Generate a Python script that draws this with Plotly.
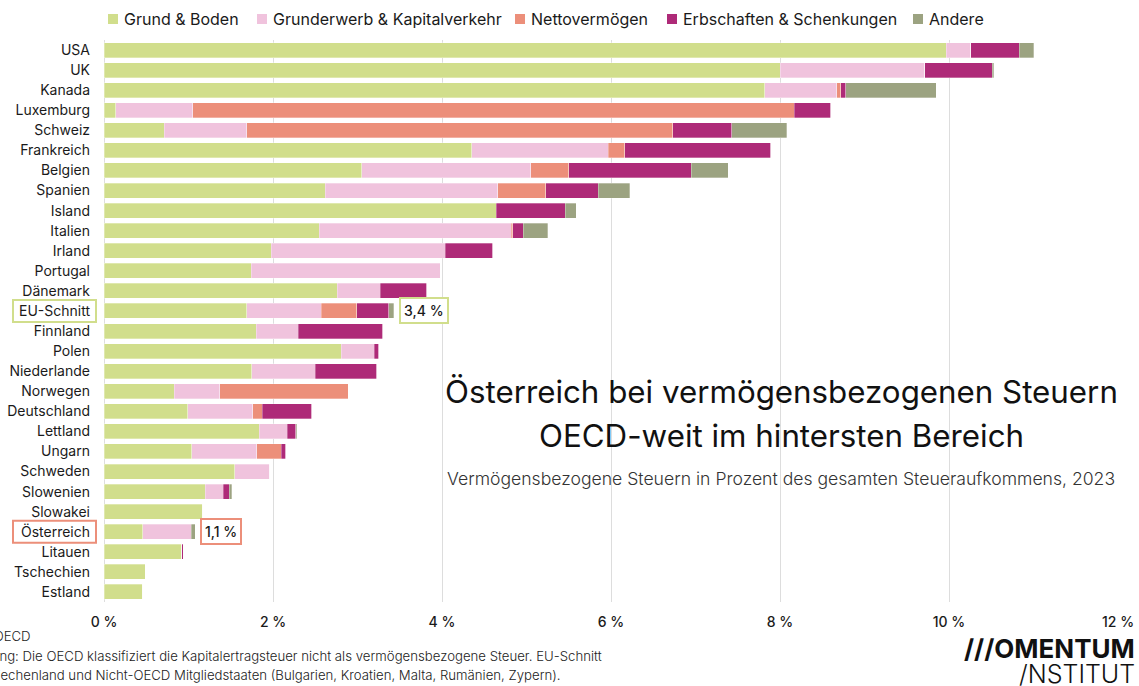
import plotly.graph_objects as go

# Länder (von oben nach unten)
laender = ["USA", "UK", "Kanada", "Luxemburg", "Schweiz", "Frankreich", "Belgien",
           "Spanien", "Island", "Italien", "Irland", "Portugal", "Dänemark", "EU-Schnitt",
           "Finnland", "Polen", "Niederlande", "Norwegen", "Deutschland", "Lettland",
           "Ungarn", "Schweden", "Slowenien", "Slowakei", "Österreich", "Litauen",
           "Tschechien", "Estland"]

# Anteile am gesamten Steueraufkommen in %, 2023
grund_boden = [9.97, 8.00, 7.82, 0.14, 0.71, 4.35, 3.05, 2.62, 4.64, 2.55, 1.98, 1.74, 2.76, 1.69,
               1.80, 2.81, 1.75, 0.83, 0.99, 1.84, 1.04, 1.55, 1.20, 1.17, 0.46, 0.92, 0.49, 0.46]
grunderwerb = [0.29, 1.71, 0.85, 0.91, 0.98, 1.62, 2.00, 2.04, 0.00, 2.27, 2.06, 2.24, 0.51, 0.88,
               0.50, 0.39, 0.75, 0.54, 0.77, 0.33, 0.77, 0.41, 0.21, 0.00, 0.57, 0.00, 0.00, 0.00]
nettovermoegen = [0.00, 0.00, 0.05, 7.12, 5.04, 0.19, 0.45, 0.57, 0.00, 0.02, 0.00, 0.00, 0.00, 0.42,
                  0.00, 0.00, 0.00, 1.52, 0.11, 0.00, 0.29, 0.00, 0.00, 0.00, 0.00, 0.00, 0.00, 0.00]
erbschaften = [0.57, 0.80, 0.06, 0.43, 0.70, 1.73, 1.45, 0.62, 0.82, 0.12, 0.56, 0.00, 0.55, 0.38,
               1.00, 0.05, 0.73, 0.00, 0.59, 0.10, 0.05, 0.00, 0.07, 0.00, 0.00, 0.02, 0.00, 0.00]
andere = [0.17, 0.02, 1.07, 0.00, 0.65, 0.00, 0.44, 0.37, 0.13, 0.29, 0.00, 0.00, 0.00, 0.06,
          0.00, 0.00, 0.00, 0.00, 0.00, 0.01, 0.00, 0.00, 0.03, 0.00, 0.05, 0.00, 0.00, 0.00]

x_ticks = [0, 2, 4, 6, 8, 10, 12]
x_ticktext = ["0 %", "2 %", "4 %", "6 %", "8 %", "10 %", "12 %"]

serien = [
    ("Grund & Boden", grund_boden, "#d1de8c"),
    ("Grunderwerb & Kapitalverkehr", grunderwerb, "#f0c3dd"),
    ("Nettovermögen", nettovermoegen, "#ec8f7a"),
    ("Erbschaften & Schenkungen", erbschaften, "#ae2a78"),
    ("Andere", andere, "#9ca381"),
]

FONT = "Inter"
GREEN = "#d1de8c"
ORANGE = "#ec8f7a"

# Plotfläche in Pixeln
L, R, T, B = 104, 1118, 40, 602
W, H = R - L, B - T


def px(x):
    return (x - L) / W


def py(y):
    return (B - y) / H


fig = go.Figure()
for name, werte, farbe in serien:
    fig.add_trace(go.Bar(
        y=laender, x=werte, name=name, orientation="h",
        marker=dict(color=farbe, line=dict(color="rgba(255,255,255,0.6)", width=0.5)),
        hoverinfo="x+y+name", showlegend=False,
    ))

summen = [round(sum(s[1][i] for s in serien), 2) for i in range(len(laender))]

fig.update_layout(
    barmode="stack",
    bargap=0.25,
    width=1139, height=686,
    margin=dict(l=L, r=1139 - R, t=T, b=686 - B, autoexpand=False),
    paper_bgcolor="white", plot_bgcolor="white",
    font=dict(family=FONT, color="#1a1a1a", size=14),
    showlegend=False,
    xaxis=dict(range=[0, 12], tickvals=x_ticks, ticktext=x_ticktext,
               showgrid=True, gridcolor="#dddddd", gridwidth=1, zeroline=True,
               zerolinecolor="#dddddd", zerolinewidth=1, automargin=False,
               tickfont=dict(size=14, family=FONT, color="#1a1a1a", weight=500),
               ticks="", ticklabelstandoff=10, fixedrange=True),
    yaxis=dict(autorange="reversed", ticks="", ticklabelstandoff=13, automargin=False,
               tickfont=dict(size=14, family=FONT, color="#1a1a1a"), fixedrange=True),
)

# Legende oben
legende_x = [108, 257, 515, 667, 913]
for (name, _, farbe), lx in zip(serien, legende_x):
    fig.add_shape(type="rect", xref="paper", yref="paper",
                  x0=px(lx), x1=px(lx + 10), y0=py(24), y1=py(14),
                  line=dict(width=0), fillcolor=farbe)
    fig.add_annotation(xref="paper", yref="paper", x=px(lx + 14), y=py(19),
                       xanchor="left", yanchor="middle", text=name, showarrow=False,
                       font=dict(size=16, family=FONT, color="#1a1a1a"))

# Rahmen um EU-Schnitt und Österreich
for land, farbe in [("EU-Schnitt", GREEN), ("Österreich", ORANGE)]:
    i = laender.index(land)
    fig.add_shape(type="rect", xref="paper", yref="y",
                  x0=px(13), x1=px(96), y0=i - 0.55, y1=i + 0.55,
                  line=dict(color=farbe, width=2), fillcolor="rgba(0,0,0,0)")
    txt = f"{summen[i]:.1f} %".replace(".", ",")
    fig.add_annotation(x=summen[i], y=land, xref="x", yref="y", text=txt,
                       showarrow=False, xanchor="left", xshift=5,
                       font=dict(size=14, family=FONT, color="#1a1a1a", weight=500),
                       bordercolor=farbe, borderwidth=2, borderpad=3, bgcolor="white")

# Titel
for zeile, y in [("Österreich bei vermögensbezogenen Steuern", 392),
                 ("OECD-weit im hintersten Bereich", 436)]:
    fig.add_annotation(xref="paper", yref="paper", x=px(781), y=py(y), xanchor="center",
                       yanchor="middle", text=zeile, showarrow=False,
                       font=dict(size=31.3, family=FONT, color="#111111"))
fig.add_annotation(xref="paper", yref="paper", x=px(1117), y=py(478), xanchor="right",
                   yanchor="middle",
                   text="Vermögensbezogene Steuern in Prozent des gesamten Steueraufkommens, 2023",
                   showarrow=False, font=dict(size=17.6, family=FONT, color="#333333", weight=300))

# Fußnoten (links angeschnitten wie im Original)
fussnoten = [
    ("Quelle: OECD", 33, 636),
    ("Anmerkung: Die OECD klassifiziert die Kapitalertragsteuer nicht als vermögensbezogene Steuer. EU-Schnitt", 604, 656),
    ("ohne Griechenland und Nicht-OECD Mitgliedstaaten (Bulgarien, Kroatien, Malta, Rumänien, Zypern).", 563, 675),
]
for text, x_rechts, y in fussnoten:
    fig.add_annotation(xref="paper", yref="paper", x=px(x_rechts), y=py(y),
                       xanchor="right", yanchor="middle", text=text, showarrow=False,
                       font=dict(size=13.2, family=FONT, color="#222222", weight=300))

# Logo
fig.add_annotation(xref="paper", yref="paper", x=px(1137), y=py(649),
                   xanchor="right", yanchor="middle", text="<b>///OMENTUM</b>", showarrow=False,
                   font=dict(size=26, family=FONT, color="#111111"))
fig.add_annotation(xref="paper", yref="paper", x=px(1137), y=py(674),
                   xanchor="right", yanchor="middle", text="/NSTITUT", showarrow=False,
                   font=dict(size=25, family=FONT, color="#111111", weight=300))

# Seitenrand des Browsers entfernen, damit die Grafik bündig sitzt
fig.write_html("out.html", config={"displayModeBar": False},
               post_script="document.body.style.margin='0';")
